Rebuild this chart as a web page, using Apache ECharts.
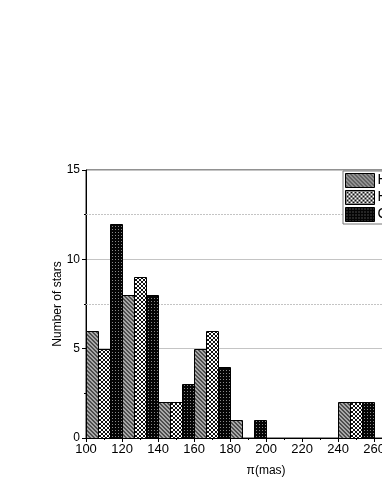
<!DOCTYPE html>
<html>
<head>
<meta charset="utf-8">
<script src="https://cdn.jsdelivr.net/npm/echarts@6/dist/echarts.min.js"></script>
<style>
html,body{margin:0;padding:0;background:#fff;overflow:hidden;width:382px;height:494px;}
#chart{width:460px;height:494px;}
</style>
</head>
<body>
<div id="chart"></div>
<script>
// Data
const binStarts = [100, 120, 140, 160, 180, 200, 220, 240];
const binWidth = 20;
const seriesNames = ['Hipparcos', 'HYG', 'CNS'];
const hipValues = [6, 8, 2, 5, 1, 0, 0, 2];
const hygValues = [5, 9, 2, 6, 0, 0, 0, 2];
const cnsValues = [12, 8, 3, 4, 1, 0, 0, 2];
const xTicks = [100, 120, 140, 160, 180, 200, 220, 240, 260, 280, 300];
const yTicks = [0, 5, 10, 15];
const minorGridValues = [7.5, 12.5];

function makePattern(kind) {
  const c = document.createElement('canvas');
  const ctx = c.getContext('2d');
  if (kind === 'hatch') {
    c.width = 4; c.height = 4;
    ctx.fillStyle = '#a8a8a8'; ctx.fillRect(0, 0, 4, 4);
    ctx.fillStyle = '#4e4e4e';
    for (let i = 0; i < 4; i++) { ctx.fillRect(i, i, 1, 1); ctx.fillRect((i + 1) % 4, i, 1, 1); }
  } else if (kind === 'cross') {
    c.width = 4; c.height = 4;
    ctx.fillStyle = '#ffffff'; ctx.fillRect(0, 0, 4, 4);
    ctx.fillStyle = '#111111';
    for (let i = 0; i < 4; i++) { ctx.fillRect(i, i, 1, 1); ctx.fillRect(3 - i, i, 1, 1); }
  } else {
    c.width = 3; c.height = 3;
    ctx.fillStyle = '#050505'; ctx.fillRect(0, 0, 3, 3);
    ctx.fillStyle = '#8a8a8a'; ctx.fillRect(1, 1, 1, 1);
  }
  return { image: c, repeat: 'repeat' };
}

const patterns = [makePattern('hatch'), makePattern('cross'), makePattern('dots')];
const allValues = [hipValues, hygValues, cnsValues];

function renderItem(params, api) {
  const v = api.value(2);
  if (!v) return null;
  const p0 = api.coord([api.value(0), v]);
  const p1 = api.coord([api.value(1), 0]);
  return {
    type: 'rect',
    shape: { x: Math.round(p0[0]) + 0.5, y: Math.round(p0[1]) + 0.5, width: Math.round(p1[0]) - Math.round(p0[0]), height: Math.round(p1[1]) - Math.round(p0[1]) },
    style: { fill: patterns[params.seriesIndex], stroke: '#000', lineWidth: 1 }
  };
}

const series = seriesNames.map((name, k) => ({
  name: name,
  type: 'custom',
  renderItem: renderItem,
  itemStyle: { color: patterns[k], borderColor: '#000', borderWidth: 1 },
  encode: { x: [0, 1], y: 2 },
  data: binStarts.map((b, i) => [b + k * binWidth / 3, b + (k + 1) * binWidth / 3, allValues[k][i]]),
  z: 3
}));

series.push({
  type: 'line',
  data: [],
  silent: true,
  markLine: {
    symbol: 'none',
    silent: true,
    z: 1,
    label: { show: false },
    lineStyle: { color: '#c4c4c4', type: [2, 1], width: 1 },
    data: minorGridValues.map(v => ({ yAxis: v }))
  }
});

const chart = echarts.init(document.getElementById('chart'), null, { renderer: 'canvas' });
chart.setOption({
  animation: false,
  backgroundColor: '#fff',
  textStyle: { fontFamily: 'Liberation Sans, Arial, sans-serif' },
  grid: { left: 86, right: 12, top: 170, bottom: 56, show: true, borderColor: '#222', borderWidth: 1, backgroundColor: 'transparent' },
  legend: {
    data: seriesNames,
    orient: 'vertical',
    left: 343, top: 171,
    padding: [2, 3, 2, 2],
    itemWidth: 29, itemHeight: 14, itemGap: 2,
    icon: 'rect',
    backgroundColor: '#fff',
    borderColor: '#777', borderWidth: 1,
    itemStyle: { borderColor: '#000', borderWidth: 1 },
    textStyle: { fontSize: 14, color: '#000', fontFamily: 'Liberation Sans, Arial, sans-serif', padding: [0, 0, 0, -2] }
  },
  xAxis: {
    type: 'value',
    min: xTicks[0], max: xTicks[xTicks.length - 1], interval: 20,
    name: 'π(mas)', nameLocation: 'middle', nameGap: 27, nameMoveOverlap: false,
    nameTextStyle: { fontSize: 12, color: '#000' },
    axisLine: { show: true, lineStyle: { color: '#000', width: 1 } },
    axisTick: { show: true, length: 4, lineStyle: { color: '#000' } },
    minorTick: { show: true, splitNumber: 2, length: 2, lineStyle: { color: '#000' } },
    axisLabel: { fontSize: 13, color: '#000', margin: 5 },
    splitLine: { show: false }
  },
  yAxis: {
    type: 'value',
    min: yTicks[0], max: yTicks[yTicks.length - 1], interval: 5,
    name: 'Number of stars', nameLocation: 'middle', nameGap: 22, nameMoveOverlap: false,
    nameTextStyle: { fontSize: 12, color: '#000' },
    axisLine: { show: true, lineStyle: { color: '#000', width: 1 } },
    axisTick: { show: true, length: 4, lineStyle: { color: '#000' } },
    minorTick: { show: true, splitNumber: 2, length: 2, lineStyle: { color: '#000' } },
    axisLabel: { fontSize: 12, color: '#000', margin: 6 },
    splitLine: { show: true, lineStyle: { color: '#c4c4c4', width: 1 } }
  },
  series: series
});
</script>
</body>
</html>
